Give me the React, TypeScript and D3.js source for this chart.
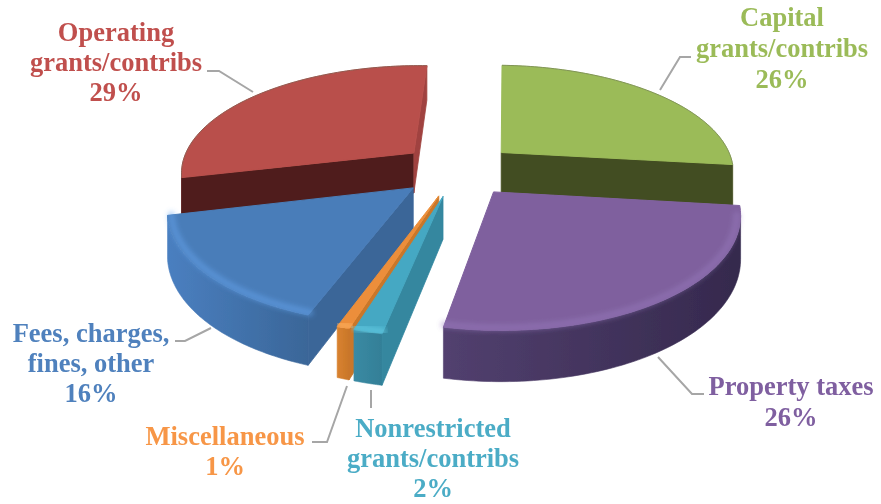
import React from "react";
import * as d3 from "d3";

const categories = ["Capital grants/contribs", "Property taxes", "Nonrestricted grants/contribs", "Miscellaneous", "Fees, charges, fines, other", "Operating grants/contribs"];
const values = [26.3, 26.3, 1.6, 0.7, 15.8, 29.3];
const percentLabels = ["26%", "26%", "2%", "1%", "16%", "29%"];

const labelLines = [
  ["Capital", "grants/contribs", "26%"],
  ["Property taxes", "26%"],
  ["Nonrestricted", "grants/contribs", "2%"],
  ["Miscellaneous", "1%"],
  ["Fees, charges,", "fines, other", "16%"],
  ["Operating", "grants/contribs", "29%"],
];
const labelX = [782, 791, 433, 225, 91, 116];
const labelY = [26, 395, 437, 445, 342, 41];
const lineGap = [31, 31, 30, 30, 30, 30];

const leaders = [
  [[660, 90], [680, 57], [691, 57]],
  [[658, 357], [692, 394], [704, 394]],
  [[371, 390], [371, 408]],
  [[347, 386], [327, 442], [312, 442]],
  [[211, 328], [185, 341], [175, 341]],
  [[207, 71], [219, 71], [253, 92]],
];

const topColors = ["#9bbb59", "#7f619e", "#45a8c3", "#ec8e3a", "#4a7db9", "#b94f4b"];
const textColors = ["#9bbb59", "#7f5fa0", "#4bacc6", "#f79646", "#4f81bd", "#c0504d"];
const arcWallFrom = ["#5a6e30", "#52406f", "#3a8aa3", "#d9822f", "#4a7fc0", "#8f3a37"];
const arcWallTo = ["#5a6e30", "#35294d", "#337f97", "#c9772a", "#3a6698", "#8f3a37"];
const radialWall = ["#434d21", "#35294d", "#34879f", "#c9772a", "#3b6698", "#4f1f1d"];
const endWall = ["#434d21", "#35294d", "#34879f", "#c9772a", "#3b6698", "#a0423f"];
const rimColors = ["none", "#9a7cc0", "#66cfe6", "#ffb566", "#65a5ee", "none"];
const rimOpacity = [0, 0.45, 0.6, 0.6, 0.5, 0];

const W = 881, H = 504;
const cx = 458, cy = 169.5, A = 234, B = 107, D = 6, depth = 41, explode = 0.25;
const start = (2 * Math.PI) / 180;

type Pt = { x: number; y: number; s: number };

function project(X: number, Y: number): Pt {
  const s = D / (D - Y);
  return { x: cx + A * X * s, y: cy + B * Y * s, s };
}

const arcs = d3.pie<number>().sort(null).value((d) => d).startAngle(start).endAngle(start + 2 * Math.PI)(values);

const line = d3.line<{ x: number; y: number }>().x((d) => d.x).y((d) => d.y);
const poly = (p: { x: number; y: number }[]) => line(p) + "Z";
const down = (p: Pt) => ({ x: p.x, y: p.y + depth * p.s, s: p.s });

function buildSlice(a: d3.PieArcDatum<number>, i: number) {
  const mid = (a.startAngle + a.endAngle) / 2;
  const ax = explode * Math.sin(mid), ay = -explode * Math.cos(mid);
  const apex = project(ax, ay);
  const angles = d3.range(0, 81).map((k) => a.startAngle + ((a.endAngle - a.startAngle) * k) / 80);
  const rim = angles.map((t) => project(ax + Math.sin(t), ay - Math.cos(t)));
  const rimInner = angles.map((t) => project(ax + 0.985 * Math.sin(t), ay - 0.985 * Math.cos(t)));
  const faces: { d: string; fill: string }[] = [];
  const edge = (p: Pt, q: Pt, fill: string) => {
    if (q.x < p.x) faces.push({ d: poly([p, q, down(q), down(p)]), fill });
  };
  edge(apex, rim[0], radialWall[i]);
  edge(rim[rim.length - 1], apex, endWall[i]);
  const front = rim.filter((p, k) => (k < rim.length - 1 && rim[k + 1].x < p.x) || (k > 0 && p.x < rim[k - 1].x));
  const arcWall = front.length > 1 ? poly([...front, ...front.map(down).reverse()]) : null;
  const xs = rim.map((p) => p.x);
  const frontInner = rimInner.filter((_, k) => (k < rim.length - 1 && rim[k + 1].x < rim[k].x) || (k > 0 && rim[k].x < rim[k - 1].x));
  return {
    i,
    apexY: ay,
    top: poly([apex, ...rim]),
    faces,
    arcWall,
    x1: d3.min(xs)!,
    x2: d3.max(xs)!,
    rimLine: frontInner.length > 1 ? (line(frontInner) as string) : "",
    edge: line(rim) as string,
  };
}

const slices = arcs.map((a, idx) => buildSlice(a, idx)).sort((p, q) => p.apexY - q.apexY);
const serif = "'Liberation Serif', 'Times New Roman', serif";

export default function App() {
  return (
    <svg width={W} height={H} viewBox={`0 0 ${W} ${H}`} style={{ position: "absolute", left: 0, top: 0, background: "#fff" }}>
      <defs>
        <filter id="soft" x="-5%" y="-5%" width="110%" height="110%"><feGaussianBlur stdDeviation="0.45" /></filter>
        <filter id="rim" x="-15%" y="-30%" width="130%" height="160%"><feGaussianBlur stdDeviation="2.4" /></filter>
        {slices.map((s) => (
          <linearGradient key={s.i} id={`wall-${s.i}`} gradientUnits="userSpaceOnUse" x1={s.x1} x2={s.x2} y1={0} y2={0}>
            <stop offset="0" stopColor={arcWallFrom[s.i]} />
            <stop offset="1" stopColor={arcWallTo[s.i]} />
          </linearGradient>
        ))}
      </defs>
      <g filter="url(#soft)">
        {slices.map((s) => (
          <g key={s.i}>
            {s.arcWall && <path d={s.arcWall} fill={`url(#wall-${s.i})`} stroke={`url(#wall-${s.i})`} strokeWidth={0.6} />}
            {s.faces.map((w, k) => (
              <path key={k} d={w.d} fill={w.fill} stroke={w.fill} strokeWidth={0.8} strokeLinejoin="round" />
            ))}
            <path d={s.top} fill={topColors[s.i]} stroke={topColors[s.i]} strokeWidth={1} strokeLinejoin="round" />
            {rimColors[s.i] !== "none" ? (
              s.rimLine && <path d={s.rimLine} fill="none" stroke={rimColors[s.i]} strokeWidth={7} strokeLinecap="round" filter="url(#rim)" opacity={rimOpacity[s.i]} />
            ) : (
              <path d={s.edge} fill="none" stroke="#5f6350" strokeOpacity={0.45} strokeWidth={1} />
            )}
          </g>
        ))}
        {leaders.map((pts, i) => (
          <polyline key={i} points={pts.map((p) => p.join(",")).join(" ")} fill="none" stroke="#a6a6a6" strokeWidth={2} />
        ))}
        {labelLines.map((lines, i) => (
          <text key={categories[i]} textAnchor="middle" fontFamily={serif} fontWeight="bold" fontSize={26.5} fill={textColors[i]}>
            {lines.map((t, k) => (
              <tspan key={k} x={labelX[i]} y={labelY[i] + k * lineGap[i]}>{t === percentLabels[i] ? percentLabels[i] : t}</tspan>
            ))}
          </text>
        ))}
      </g>
    </svg>
  );
}
